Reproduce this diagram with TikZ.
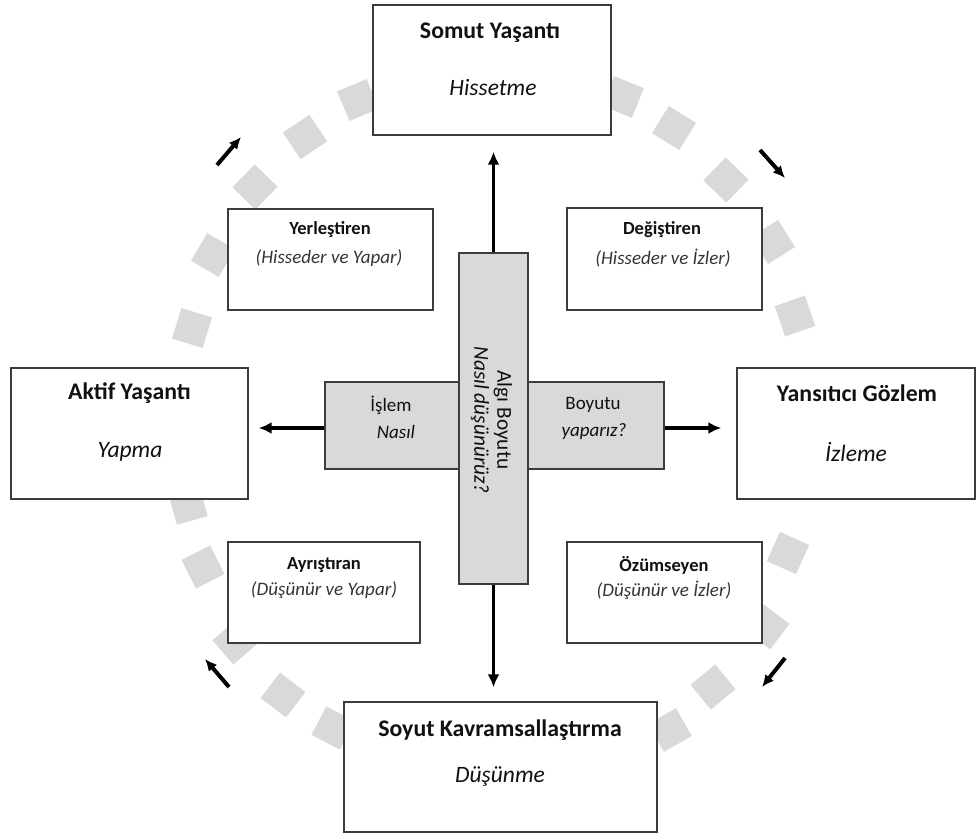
\documentclass[tikz,border=0pt]{standalone}
\usepackage{fontspec}
\setmainfont{Carlito}
\usetikzlibrary{arrows.meta}
\definecolor{sqgray}{HTML}{D9D9D9}
\definecolor{boxline}{HTML}{3C3C3C}
\definecolor{crossfill}{HTML}{D9D9D9}
\definecolor{txt}{HTML}{111111}
\tikzset{
  sq/.style={fill=sqgray, draw=none, minimum size=32pt, inner sep=0pt},
  whitebox/.style={draw=boxline, line width=1.4pt, fill=white, inner sep=0pt},
  graybox/.style={draw=boxline, line width=1.4pt, fill=crossfill, inner sep=0pt},
  bigtitle/.style={text=txt, inner sep=0pt, font=\fontsize{23.8}{27}\selectfont\bfseries},
  bigsub/.style={text=txt, inner sep=0pt, font=\fontsize{23.5}{27}\selectfont\itshape},
  smalltitle/.style={text=txt, inner sep=0pt, font=\fontsize{18.5}{22}\selectfont\bfseries},
  smallsub/.style={text=txt!85, inner sep=0pt, font=\fontsize{19}{22}\selectfont\itshape},
  midtext/.style={text=txt, inner sep=0pt, font=\fontsize{19}{23}\selectfont},
  midital/.style={text=txt, inner sep=0pt, font=\fontsize{19}{23}\selectfont\itshape},
  mainarrow/.style={-{Latex[length=13pt,width=12pt]}, line width=3.6pt, draw=black},
  cyclearrow/.style={-{Latex[length=12pt,width=11pt]}, line width=4pt, draw=black},
}
\begin{document}
\begin{tikzpicture}[x=1pt,y=-1pt]
\useasboundingbox (0,0) rectangle (977,836);

% gray squares of the cycle
\node[sq, rotate=112.9] (q1) at (358,100) {};
\node[sq, rotate=123.6] (q2) at (305,137) {};
\node[sq, rotate=135.6] (q3) at (255,187) {};
\node[sq, rotate=149.5] (q4) at (213,255) {};
\node[sq, rotate=163] (q5) at (192,328) {};
\node[sq, rotate=195.6] (q6) at (188,505) {};
\node[sq, rotate=206.9] (q7) at (203,567) {};
\node[sq, rotate=220.7] (q8) at (235,642) {};
\node[sq, rotate=232.6] (q9) at (283,695) {};
\node[sq, rotate=242.5] (q10) at (333,728) {};
\node[sq, rotate=68.1] (q11) at (623,97) {};
\node[sq, rotate=58.2] (q12) at (674,128) {};
\node[sq, rotate=45.8] (q13) at (726,180) {};
\node[sq, rotate=32.4] (q14) at (773,242) {};
\node[sq, rotate=19.2] (q15) at (795,316) {};
\node[sq, rotate=-24.3] (q16) at (788,553) {};
\node[sq, rotate=-37.1] (q17) at (767,627) {};
\node[sq, rotate=-50.5] (q18) at (713,687) {};
\node[sq, rotate=-60.3] (q19) at (670,730) {};

% main boxes
\node[whitebox, minimum width=238pt, minimum height=130pt] (somut) at (492,70) {};
\node[whitebox, minimum width=237pt, minimum height=131pt] (aktif) at (129.5,433.5) {};
\node[whitebox, minimum width=238pt, minimum height=131pt] (yans) at (856,433.5) {};
\node[whitebox, minimum width=313pt, minimum height=130pt] (soyut) at (500.5,767) {};

% style boxes
\node[whitebox, minimum width=205pt, minimum height=101pt] (yerl) at (330.5,259.5) {};
\node[whitebox, minimum width=195pt, minimum height=102pt] (degi) at (664.5,259) {};
\node[whitebox, minimum width=192pt, minimum height=101pt] (ayri) at (324,592.5) {};
\node[whitebox, minimum width=195pt, minimum height=101pt] (ozum) at (664.5,592.5) {};

% central cross
\node[graybox, minimum width=339pt, minimum height=87pt] (hb) at (494.5,425.5) {};
\node[graybox, minimum width=69pt, minimum height=331pt] (vb) at (493.5,418.5) {};

% texts of main boxes
\node[bigtitle] (t1) at (490,33) {Somut Yaşantı};
\node[bigsub] (s1) at (493,87) {Hissetme};
\node[bigtitle] (t2) at (129.5,393) {Aktif Yaşantı};
\node[bigsub] (s2) at (130,452) {Yapma};
\node[bigtitle] (t3) at (857,393) {Yansıtıcı Gözlem};
\node[bigsub] (s3) at (856,452) {İzleme};
\node[bigtitle] (t4) at (500,730) {Soyut Kavramsallaştırma};
\node[bigsub] (s4) at (500,777) {Düşünme};

% texts of style boxes
\node[smalltitle] (t5) at (330,230) {Yerleştiren};
\node[smallsub] (s5) at (329,258) {(Hisseder ve Yapar)};
\node[smalltitle] (t6) at (662,230) {Değiştiren};
\node[smallsub] (s6) at (663,258) {(Hisseder ve İzler)};
\node[smalltitle] (t7) at (324,565) {Ayrıştıran};
\node[smallsub] (s7) at (324,590) {(Düşünür ve Yapar)};
\node[smalltitle] (t8) at (664,565) {Özümseyen};
\node[smallsub] (s8) at (664,590) {(Düşünür ve İzler)};

% texts of the cross
\node[midtext] (c1) at (391,405) {İşlem};
\node[midital] (c2) at (396,432) {Nasıl};
\node[midtext] (c3) at (593,405) {Boyutu};
\node[midital] (c4) at (594,432) {yaparız?};
\node[rotate=-90, text=txt, inner sep=0pt, align=center, font=\fontsize{21.3}{23}\selectfont] (c5) at (491.5,420)
  {Algı Boyutu\\\textit{Nasıl düşünürüz?}};

% main arrows
\draw[mainarrow, shorten >=16pt] (vb.north) -- (vb.north |- somut.south);
\draw[mainarrow, shorten >=14pt] (vb.south) -- (vb.south |- soyut.north);
\draw[mainarrow, shorten >=10pt] ([yshift=-2.5pt]hb.west) -- ([yshift=-2.5pt]hb.west -| aktif.east);
\draw[mainarrow, shorten >=15pt] ([yshift=-2.5pt]hb.east) -- ([yshift=-2.5pt]hb.east -| yans.west);

% cycle arrows
\coordinate (a1s) at (217,165); \coordinate (a1e) at (241,137);
\coordinate (a2s) at (760,150); \coordinate (a2e) at (785,178);
\coordinate (a3s) at (785,658); \coordinate (a3e) at (762,687);
\coordinate (a4s) at (229,687); \coordinate (a4e) at (205,659);
\draw[cyclearrow] (a1s) -- (a1e);
\draw[cyclearrow] (a2s) -- (a2e);
\draw[cyclearrow] (a3s) -- (a3e);
\draw[cyclearrow] (a4s) -- (a4e);
\end{tikzpicture}
\end{document}
